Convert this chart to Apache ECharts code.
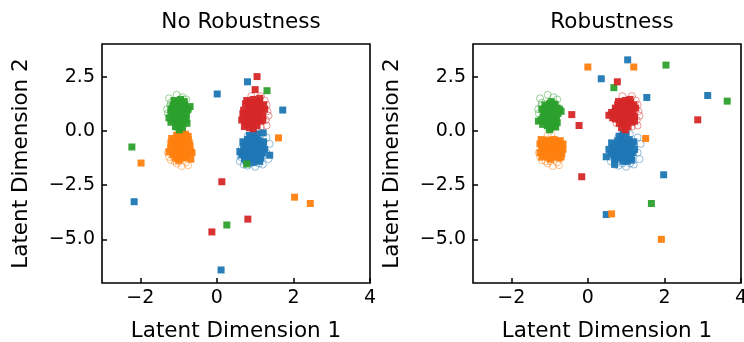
<!DOCTYPE html>
<html>
<head>
<meta charset="utf-8">
<script src="https://cdn.jsdelivr.net/npm/echarts/dist/echarts.min.js"></script>
<style>
  html, body { margin: 0; padding: 0; background: #fff; }
  #chart { width: 744px; height: 342px; }
</style>
</head>
<body>
<div id="chart"></div>
<script>
// 面板标题与坐标轴名称
const panelTitles = ['No Robustness', 'Robustness'];
const xName = 'Latent Dimension 1';
const yName = 'Latent Dimension 2';
const xTicks = [-2, 0, 2, 4];
const yTicks = [-5, -2.5, 0, 2.5];

// 原始数据（空心圆），两个面板相同
const greenCircles = [[-1.25,1.5],[-1.05,1.66],[-1.3,1.0],[-1.28,0.8],[-1.2,1.3],[-0.85,1.25],[-0.85,0.5],[-1.05,0.25],[-0.9,1.55],[-0.88,0.25],[-1.2,0.55],[-0.98,0.2],[-0.8,1.45],[-1.22,1.15],[-0.8,0.85],[-1.05,0.15],[-0.95,1.2],[-1.05,0.5],[-0.85,0.8],[-1.18,0.95]];
const orangeCircles = [[-1.25,-1.2],[-1.1,-1.4],[-0.92,-1.62],[-0.75,-1.58],[-1.2,-0.7],[-1.28,-1.0],[-0.78,-0.5],[-1.05,-1.5],[-0.8,-1.45],[-1.2,-1.35],[-1.05,-0.2],[-0.78,-1.15],[-0.98,-1.4],[-1.02,-0.6],[-0.88,-0.4],[-1.15,-0.45],[-0.75,-0.85],[-0.85,-1.1],[-1.08,-0.95],[-0.95,-0.15]];
const redCircles = [[1.3,1.2],[1.32,0.9],[1.28,0.5],[1.25,1.4],[1.35,0.7],[1.15,1.6],[0.8,1.35],[0.72,1.0],[1.3,0.25],[1.15,0.2],[0.9,1.6],[1.0,0.1],[0.75,0.35],[1.1,1.1],[0.85,0.9],[1.05,0.4],[0.95,1.3],[0.8,0.6],[1.18,0.8],[1.0,0.75]];
const blueCircles = [[0.8,-1.6],[0.6,-1.4],[1.0,-1.65],[1.2,-1.55],[1.35,-1.3],[1.38,-0.6],[1.3,-0.3],[0.62,-1.2],[0.7,-1.55],[1.1,-1.5],[0.65,-0.8],[1.3,-1.0],[0.9,-1.5],[1.1,-0.15],[0.8,-0.25],[1.0,-0.9],[0.85,-1.1],[1.05,-0.5],[0.92,-0.7],[1.2,-0.8]];

// 左图：No Robustness 嵌入点（实心方块），最后几个为离群点
const leftGreen = [[-1.0,0.75],[-0.9,0.9],[-1.1,0.6],[-0.85,0.5],[-1.05,1.1],[-0.95,0.3],[-1.15,0.85],[-0.8,0.75],[-1.0,1.3],[-0.9,0.15],[-1.2,0.4],[-0.75,1.0],[-1.1,1.25],[-0.85,1.2],[-1.0,0.45],[-0.95,1.45],[-1.2,1.0],[-0.78,0.35],[-1.08,0.2],[-0.88,0.65],[-1.15,0.7],[-0.7,1.12],[-0.98,0.05],[-1.05,0.9],[-0.92,1.05],[-1.25,0.6],[-0.82,0.9],[-1.02,1.35],[-0.9,0.4],[-1.12,1.4],
  [-1.0,0.6],[-0.9,1.25],[-1.1,0.45],[-0.8,0.55],[-1.15,1.15],[-0.85,1.35],[-0.95,0.85],[-1.05,0.35],[-0.78,0.95],[-1.2,0.8],[-0.95,0.6],[-1.08,1.0],
  [-2.22,-0.74],[1.31,1.85],[0.78,-1.52],[0.26,-4.33]];
const leftOrange = [[-0.95,-0.75],[-0.85,-0.6],[-1.05,-0.9],[-0.9,-0.3],[-1.1,-0.5],[-0.8,-1.0],[-1.0,-1.2],[-0.7,-0.7],[-1.2,-0.8],[-0.9,-0.1],[-1.15,-1.1],[-0.75,-0.4],[-1.0,-0.45],[-0.85,-1.25],[-1.2,-0.55],[-0.65,-1.0],[-1.05,-0.2],[-0.95,-1.0],[-0.78,-0.8],[-1.12,-0.7],[-0.68,-1.3],[-0.92,-0.55],[-1.25,-0.95],[-0.82,-0.15],[-1.0,-1.35],[-0.72,-0.55],[-1.08,-1.25],[-0.88,-0.9],[-1.18,-0.35],[-0.95,-0.25],
  [-0.9,-0.7],[-1.05,-0.6],[-0.8,-1.15],[-1.1,-0.95],[-0.7,-0.9],[-1.0,-0.3],[-0.85,-0.45],[-1.15,-0.8],[-0.95,-1.15],[-0.75,-0.25],[-1.05,-1.05],[-0.88,-1.05],
  [-1.98,-1.48],[1.61,-0.32],[2.03,-3.05],[2.44,-3.34]];
const leftRed = [[0.95,0.8],[0.85,1.0],[1.05,0.6],[0.75,0.7],[1.15,0.95],[0.9,0.4],[1.0,1.2],[0.7,0.95],[1.2,0.7],[0.8,0.3],[1.1,1.35],[0.65,0.5],[0.95,1.45],[1.25,1.0],[0.85,0.15],[1.05,0.25],[0.75,1.25],[1.15,0.45],[0.9,1.15],[1.0,0.55],[0.68,0.8],[1.22,1.2],[0.82,0.55],[1.08,0.85],[0.95,0.1],[0.78,1.4],[1.12,1.5],[0.88,0.75],[1.02,1.05],[0.72,0.2],
  [0.9,0.6],[1.1,0.65],[0.8,0.85],[1.0,0.9],[1.15,1.15],[0.85,1.3],[0.7,0.6],[1.2,0.5],[0.95,0.35],[0.75,0.45],[1.05,1.3],[0.92,1.0],
  [1.05,2.5],[1.0,1.9],[0.13,-2.34],[0.81,-4.06],[-0.13,-4.65]];
const leftBlue = [[0.95,-0.8],[0.85,-0.6],[1.05,-1.0],[0.75,-0.9],[1.15,-0.7],[0.9,-0.3],[1.0,-1.3],[0.65,-1.1],[1.2,-1.0],[0.8,-0.4],[1.1,-0.45],[0.7,-0.7],[0.95,-1.45],[1.25,-0.85],[0.85,-1.25],[1.05,-0.15],[0.6,-0.95],[1.15,-1.25],[0.9,-1.05],[1.0,-0.6],[0.72,-1.3],[1.22,-0.5],[0.82,-0.75],[1.08,-0.85],[0.95,-0.05],[0.78,-1.45],[1.12,-1.4],[0.88,-0.95],[1.02,-0.35],[0.68,-0.5],
  [0.9,-0.7],[1.1,-0.95],[0.8,-1.1],[1.0,-0.45],[1.2,-0.65],[0.75,-0.6],[0.95,-1.2],[1.05,-1.35],[0.7,-1.0],[1.15,-1.1],[0.85,-0.2],[0.92,-0.55],
  [0.8,2.26],[0.01,1.7],[1.72,0.96],[1.21,-0.09],[1.38,-1.12],[-2.16,-3.26],[0.11,-6.4]];

// 右图：Robustness 嵌入点（实心方块），最后几个为离群点
const rightGreen = [[-0.98,0.8],[-0.88,0.95],[-1.08,0.62],[-0.82,0.55],[-1.05,1.1],[-0.95,0.35],[-1.15,0.85],[-0.78,0.8],[-1.0,1.25],[-0.9,0.2],[-1.22,0.5],[-0.74,1.0],[-1.12,1.2],[-0.86,1.22],[-1.02,0.48],[-0.96,1.35],[-1.2,1.0],[-0.8,0.38],[-1.06,0.25],[-0.9,0.68],[-1.15,0.7],[-0.7,0.9],[-1.29,0.45],[-1.04,0.92],[-0.92,1.08],[-0.84,0.18],[-1.18,0.3],[-1.0,0.05],
  [-1.0,0.65],[-0.9,1.2],[-1.1,0.45],[-0.85,0.6],[-1.12,1.05],[-0.95,0.9],[-1.05,0.35],[-0.8,1.05],[-1.18,0.6],[-0.98,0.15],[-0.88,0.4],[-1.08,0.78],
  [2.04,3.03],[0.68,1.99],[3.64,1.37],[1.66,-3.34]];
const rightOrange = [[-1.22,-0.4],[-1.05,-0.42],[-0.88,-0.4],[-0.72,-0.45],[-0.65,-0.6],[-1.25,-0.6],[-1.1,-0.6],[-0.95,-0.6],[-0.8,-0.6],[-1.2,-0.8],[-1.05,-0.8],[-0.9,-0.8],[-0.75,-0.8],[-0.65,-0.85],[-1.25,-1.0],[-1.1,-1.0],[-0.95,-1.0],[-0.8,-1.0],[-0.68,-1.05],[-1.2,-1.2],[-1.05,-1.2],[-0.9,-1.2],[-0.75,-1.25],[-1.0,-0.5],[-0.85,-0.7],[-1.15,-0.9],[-0.7,-1.2],[-0.98,-1.3],
  [-1.12,-0.5],[-0.82,-0.5],[-0.98,-0.72],[-1.12,-1.1],[-0.82,-1.12],[-0.7,-0.7],[-1.18,-0.68],
  [0.0,2.94],[1.2,2.94],[1.51,-0.35],[0.62,-3.82],[1.92,-4.99]];
const rightRed = [[0.98,0.75],[0.88,0.95],[1.08,0.58],[0.78,0.7],[1.18,0.9],[0.92,0.4],[1.02,1.15],[0.72,0.9],[1.22,0.65],[0.82,0.35],[1.12,1.3],[0.55,0.72],[0.98,1.4],[1.25,1.05],[0.88,0.15],[1.05,0.2],[0.78,1.2],[1.15,0.4],[0.92,1.1],[1.02,0.5],[0.65,0.6],[1.2,1.2],[0.85,0.55],[1.1,0.8],[0.98,0.05],[0.8,1.35],[1.1,1.45],[0.62,0.85],
  [0.92,0.6],[1.12,0.65],[0.82,0.85],[1.02,0.95],[1.15,1.15],[0.88,1.28],[0.72,0.55],[1.22,0.45],[0.98,0.3],[0.72,1.05],[1.05,1.3],[0.95,0.88],
  [0.77,2.26],[-0.42,0.75],[-0.23,0.25],[2.87,0.51],[-0.16,-2.11]];
const rightBlue = [[0.9,-0.85],[0.8,-0.65],[1.0,-1.05],[0.7,-0.95],[1.1,-0.7],[0.88,-0.35],[0.98,-1.3],[0.6,-1.05],[1.18,-1.0],[0.78,-0.45],[1.08,-0.4],[0.65,-0.75],[0.92,-1.4],[1.22,-0.85],[0.82,-1.25],[1.0,-0.15],[0.55,-0.85],[1.12,-1.25],[0.85,-1.05],[0.98,-0.6],[0.7,-1.3],[1.2,-0.5],[0.8,-0.8],[1.05,-0.85],[0.92,-0.1],[0.75,-1.2],[1.15,-1.35],[0.62,-0.55],
  [0.88,-0.7],[1.08,-1.0],[0.78,-1.1],[0.98,-0.45],[1.15,-0.6],[0.72,-0.6],[0.92,-1.2],[1.02,-1.4],[0.68,-1.15],[1.12,-1.1],[0.82,-0.25],[0.9,-0.55],
  [1.04,3.27],[0.35,2.4],[1.54,1.54],[3.13,1.63],[0.48,-1.19],[0.7,-1.54],[1.98,-2.02],[0.48,-3.85]];

// matplotlib tab10 颜色
const colors = { blue: '#1f77b4', orange: '#ff7f0e', green: '#2ca02c', red: '#d62728' };
const circleBorder = {
  blue: 'rgba(31,119,180,0.6)', orange: 'rgba(255,127,14,0.6)',
  green: 'rgba(44,160,44,0.6)', red: 'rgba(214,39,40,0.6)'
};

const FONT = 'DejaVu Sans';
const minus = v => String(v).replace('-', '\u2212');

const chart = echarts.init(document.getElementById('chart'));

// 两个面板的网格（关闭 v6 的自动外边界收缩）
const grids = [
  { left: 102, top: 44, width: 268, height: 239 },
  { left: 473, top: 44, width: 268, height: 239 }
];

const xAxes = grids.map((g, i) => ({
  type: 'value', gridIndex: i, min: -3, max: 4, interval: 1,
  name: xName, nameLocation: 'middle', nameGap: 37,
  nameTextStyle: { fontFamily: FONT, fontSize: 21.5, color: '#000' },
  axisLine: { show: false, onZero: false },
  splitLine: { show: false },
  axisTick: { show: true, inside: true, length: 5, customValues: xTicks, lineStyle: { color: '#000', width: 1.5 } },
  axisLabel: { customValues: xTicks, margin: 6, fontFamily: FONT, fontSize: 19, color: '#000', formatter: v => minus(v) }
}));

const yAxes = grids.map((g, i) => ({
  type: 'value', gridIndex: i, min: -7, max: 4, interval: 0.5,
  name: yName, nameLocation: 'middle', nameGap: 70,
  nameTextStyle: { fontFamily: FONT, fontSize: 21.5, color: '#000' },
  axisLine: { show: false, onZero: false },
  splitLine: { show: false },
  axisTick: { show: true, inside: true, length: 5, customValues: yTicks, lineStyle: { color: '#000', width: 1.5 } },
  axisLabel: { customValues: yTicks, margin: 7, fontFamily: FONT, fontSize: 19, color: '#000', formatter: v => minus(v.toFixed(1)) }
}));

// 空心圆系列
function circleSeries(idx, data, key) {
  return {
    type: 'scatter', xAxisIndex: idx, yAxisIndex: idx, data: data,
    symbol: 'circle', symbolSize: 7, z: 2,
    itemStyle: { color: 'rgba(0,0,0,0)', borderColor: circleBorder[key], borderWidth: 1 }
  };
}
// 实心方块系列
function squareSeries(idx, data, key) {
  return {
    type: 'scatter', xAxisIndex: idx, yAxisIndex: idx, data: data,
    symbol: 'rect', symbolSize: 7, z: 3,
    itemStyle: { color: colors[key], opacity: 0.95 }
  };
}

const series = [];
[0, 1].forEach(i => {
  series.push(circleSeries(i, blueCircles, 'blue'));
  series.push(circleSeries(i, orangeCircles, 'orange'));
  series.push(circleSeries(i, greenCircles, 'green'));
  series.push(circleSeries(i, redCircles, 'red'));
});
series.push(squareSeries(0, leftBlue, 'blue'));
series.push(squareSeries(0, leftOrange, 'orange'));
series.push(squareSeries(0, leftGreen, 'green'));
series.push(squareSeries(0, leftRed, 'red'));
series.push(squareSeries(1, rightBlue, 'blue'));
series.push(squareSeries(1, rightOrange, 'orange'));
series.push(squareSeries(1, rightGreen, 'green'));
series.push(squareSeries(1, rightRed, 'red'));

chart.setOption({
  animation: false,
  backgroundColor: '#fff',
  title: panelTitles.map((t, i) => ({
    text: t, left: grids[i].left + grids[i].width / 2, top: 6, textAlign: 'center',
    textStyle: { fontFamily: FONT, fontSize: 21.5, fontWeight: 'normal', color: '#000' }
  })),
  grid: grids.map(g => Object.assign({
    show: true, borderColor: '#000', borderWidth: 1.6, backgroundColor: 'transparent',
    outerBoundsMode: 'none', containLabel: false
  }, g)),
  xAxis: xAxes,
  yAxis: yAxes,
  series: series
});
</script>
</body>
</html>
